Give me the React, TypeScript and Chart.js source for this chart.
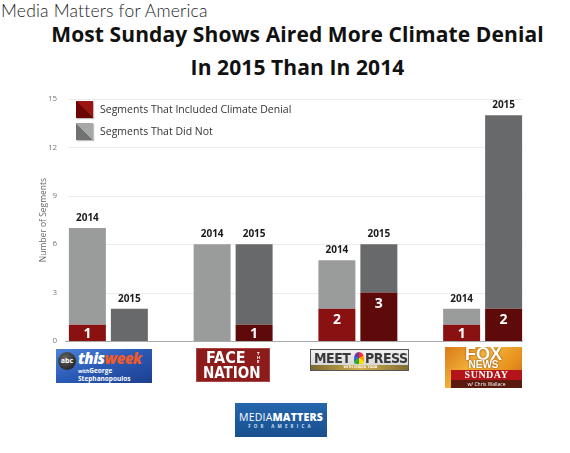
import React, { useEffect, useRef } from "react";
import { Chart, registerables } from "chart.js";

Chart.register(...registerables);

const categories = ["This Week", "Face the Nation", "Meet the Press", "Fox News Sunday"];
const denial2014 = [1, 0, 2, 1];
const other2014 = [6, 6, 3, 1];
const denial2015 = [0, 1, 3, 2];
const other2015 = [2, 5, 3, 12];
const yearLabels = ["2014", "2015"];
const legendLabels = ["Segments That Included Climate Denial", "Segments That Did Not"];
const yTickMax = 15;
const yTickStep = 3;

const FONT = "'Open Sans', 'DejaVu Sans', sans-serif";

const gridPlugin = {
  id: "customGrid",
  beforeDatasetsDraw(chart: any) {
    const { ctx, chartArea, scales } = chart;
    const y = scales.y;
    ctx.save();
    y.ticks.forEach((t: any) => {
      const py = Math.round(y.getPixelForValue(t.value)) + 0.5;
      ctx.beginPath();
      if (t.value === 0) {
        ctx.strokeStyle = "#a9a9a9";
        ctx.moveTo(chartArea.left + 19, py);
      } else {
        ctx.strokeStyle = "#ececec";
        ctx.moveTo(chartArea.left + 22, py);
      }
      ctx.lineTo(chartArea.right - 22, py);
      ctx.lineWidth = 1;
      ctx.stroke();
    });
    ctx.restore();
  },
};

const labelPlugin = {
  id: "barLabels",
  afterDatasetsDraw(chart: any) {
    const { ctx } = chart;
    ctx.save();
    ctx.textAlign = "center";
    [[0, 1], [2, 3]].forEach((pair, yi) => {
      const topMeta = chart.getDatasetMeta(pair[1]);
      topMeta.data.forEach((bar: any) => {
        ctx.font = `bold 10px ${FONT}`;
        ctx.fillStyle = "#1a1a1a";
        ctx.textBaseline = "bottom";
        ctx.fillText(yearLabels[yi], bar.x, bar.y - 5);
      });
      const denMeta = chart.getDatasetMeta(pair[0]);
      const vals = yi === 0 ? denial2014 : denial2015;
      denMeta.data.forEach((bar: any, i: number) => {
        if (!vals[i]) return;
        const h = bar.base - bar.y;
        ctx.font = `bold 14px ${FONT}`;
        ctx.fillStyle = "#ffffff";
        ctx.textBaseline = "middle";
        ctx.fillText(String(vals[i]), bar.x, bar.y + Math.min(10, h / 2) + 1);
      });
    });
    ctx.restore();
  },
};

function ChartCanvas() {
  const ref = useRef<HTMLCanvasElement>(null);
  useEffect(() => {
    if (!ref.current) return;
    const chart = new Chart(ref.current, {
      type: "bar",
      data: {
        labels: categories,
        datasets: [
          { label: legendLabels[0] + " 2014", data: denial2014, backgroundColor: "#8a1111", stack: "2014" },
          { label: legendLabels[1] + " 2014", data: other2014, backgroundColor: "#9a9c9c", stack: "2014" },
          { label: legendLabels[0] + " 2015", data: denial2015, backgroundColor: "#5e0a0a", stack: "2015" },
          { label: legendLabels[1] + " 2015", data: other2015, backgroundColor: "#68696b", stack: "2015" },
        ],
      },
      options: {
        animation: false,
        responsive: false,
        maintainAspectRatio: false,
        layout: { padding: { top: 9, bottom: 9, right: 25, left: 0 } },
        datasets: { bar: { categoryPercentage: 0.673, barPercentage: 0.881, borderWidth: 0 } },
        plugins: { legend: { display: false }, tooltip: { enabled: false }, title: { display: false } },
        scales: {
          x: { display: false, stacked: true },
          y: {
            stacked: true,
            min: 0,
            max: yTickMax,
            border: { display: false },
            grid: { display: false, drawTicks: false },
            ticks: { stepSize: yTickStep, mirror: true, crossAlign: "far", padding: 2, color: "#777", font: { family: FONT, size: 8 } },
            title: {
              display: true,
              text: "Number of Segments",
              color: "#666",
              font: { family: FONT, size: 8.5 },
              padding: { top: 38, bottom: 0 },
            },
            afterFit(scale: any) {
              scale.width = 46;
            },
          },
        },
      },
      plugins: [gridPlugin, labelPlugin],
    });
    return () => chart.destroy();
  }, []);
  return <canvas ref={ref} width={570} height={260} style={{ position: "absolute", left: 0, top: 90, width: 570, height: 260 }} />;
}

export default function App() {
  const abs = (l: number, t: number, w: number, h: number): React.CSSProperties => ({
    position: "absolute",
    left: l,
    top: t,
    width: w,
    height: h,
    boxSizing: "border-box",
    overflow: "hidden",
  });
  return (
    <div style={{ position: "absolute", left: 0, top: 0, width: 570, height: 453, background: "#fff", fontFamily: FONT, overflow: "hidden" }}>
      <div style={{ position: "absolute", left: 1, top: 0, fontFamily: "Lato, 'Open Sans', sans-serif", fontWeight: 300, fontSize: 17.5, letterSpacing: 0.2, color: "#222", lineHeight: "22px", whiteSpace: "nowrap" }}>
        Media Matters for America
      </div>
      <div style={{ position: "absolute", left: 40, top: 18, width: 515, textAlign: "center", fontWeight: 700, fontSize: 21, letterSpacing: 0.1, lineHeight: "33px", color: "#111", whiteSpace: "nowrap" }}>
        <div>Most Sunday Shows Aired More Climate Denial</div>
        <div>In 2015 Than In 2014</div>
      </div>

      <ChartCanvas />

      {/* legend */}
      <div style={{ ...abs(76, 101, 17, 17), background: "linear-gradient(45deg, #6c0606 50%, #9c1515 50%)", boxShadow: "1px 1px 1px rgba(0,0,0,0.25)" }} />
      <div style={{ position: "absolute", left: 100, top: 102, fontSize: 10.5, color: "#333", lineHeight: "14px", whiteSpace: "nowrap" }}>{legendLabels[0]}</div>
      <div style={{ ...abs(76, 123, 17, 17), background: "linear-gradient(45deg, #707172 50%, #a6a8a8 50%)", boxShadow: "1px 1px 1px rgba(0,0,0,0.25)" }} />
      <div style={{ position: "absolute", left: 100, top: 124, fontSize: 10.5, color: "#333", lineHeight: "14px", whiteSpace: "nowrap" }}>{legendLabels[1]}</div>

      {/* This Week logo */}
      <div style={{ ...abs(56, 349, 96, 34), background: "linear-gradient(160deg, #4f83d8 0%, #2b5cb8 45%, #1d3f8f 100%)" }}>
        <div style={{ ...abs(2, 3, 18, 18), borderRadius: 9, background: "radial-gradient(circle at 40% 35%, #666, #111)", color: "#fff", fontSize: 7, fontWeight: 700, textAlign: "center", lineHeight: "18px" }}>abc</div>
        <div style={{ position: "absolute", left: 22, top: 1, fontSize: 15, fontWeight: 800, fontStyle: "italic", lineHeight: "17px", whiteSpace: "nowrap", letterSpacing: -0.5 }}>
          <span style={{ color: "#fff" }}>this</span>
          <span style={{ color: "#ef5a2a" }}>week</span>
        </div>
        <div style={{ position: "absolute", left: 22, top: 18, fontSize: 6.5, fontWeight: 700, color: "#fff", lineHeight: "7px", whiteSpace: "nowrap" }}>
          <span style={{ fontSize: 5 }}>with</span>George
          <br />
          Stephanopoulos
        </div>
      </div>

      {/* Face the Nation logo */}
      <div style={{ ...abs(196, 348, 74, 34), background: "#8c1b1b", border: "1px solid #a44", color: "#fff", fontFamily: "'DejaVu Sans Condensed', 'Liberation Sans', sans-serif", fontWeight: 700 }}>
        <div style={{ position: "absolute", left: 9, top: 0, fontSize: 16, lineHeight: "17px", letterSpacing: 0 }}>FACE</div>
        <div style={{ position: "absolute", left: 60, top: 3, fontSize: 4, lineHeight: "4px", width: 3 }}>T H E</div>
        <div style={{ position: "absolute", left: 6, top: 16, fontSize: 15, lineHeight: "16px" }}>NATION</div>
      </div>

      {/* Meet the Press logo */}
      <div style={{ ...abs(310, 349, 99, 22), background: "linear-gradient(#f2f2f2, #cfcfcf)", border: "1px solid #555", fontFamily: "'DejaVu Sans Condensed', 'Liberation Sans', sans-serif", fontWeight: 700 }}>
        <div style={{ position: "absolute", left: 3, top: 0, fontSize: 14, lineHeight: "16px", color: "#3a3a3a", letterSpacing: -0.5 }}>MEET</div>
        <div style={{ ...abs(43, 2, 10, 12), background: "conic-gradient(#e33 0 60deg, #f90 60deg 120deg, #fd0 120deg 180deg, #3a3 180deg 240deg, #36c 240deg 300deg, #739 300deg)", borderRadius: "50% 50% 2px 2px" }} />
        <div style={{ position: "absolute", left: 54, top: 0, fontSize: 14, lineHeight: "16px", color: "#3a3a3a", letterSpacing: -0.5 }}>PRESS</div>
        <div style={{ ...abs(0, 15, 99, 5), background: "linear-gradient(90deg, #7a6a30, #d4b050, #7a6a30)", fontSize: 3.5, color: "#fff", textAlign: "center", lineHeight: "5px" }}>WITH CHUCK TODD</div>
      </div>

      {/* Fox News Sunday logo */}
      <div style={{ ...abs(445, 347, 77, 41), background: "linear-gradient(135deg, #d9781a 0%, #f3b43a 40%, #e8921e 70%, #c9661a 100%)", fontWeight: 800, textAlign: "center" }}>
        <div style={{ position: "absolute", left: 0, right: 0, top: -2, fontSize: 18, lineHeight: "18px", color: "#fff", textShadow: "0 0 2px #7a3a00", fontFamily: "'Liberation Sans', sans-serif" }}>FOX</div>
        <div style={{ position: "absolute", left: 0, right: 0, top: 13, fontSize: 10, lineHeight: "10px", color: "#fff", textShadow: "0 0 2px #7a3a00", fontFamily: "'Liberation Sans', sans-serif" }}>NEWS</div>
        <div style={{ position: "absolute", left: 6, right: 0, top: 23, height: 10, background: "#b3141a", fontSize: 10, lineHeight: "10px", color: "#fff", fontFamily: "'Liberation Serif', serif", letterSpacing: 0.5 }}>SUNDAY</div>
        <div style={{ position: "absolute", left: 6, right: 0, top: 33, height: 8, background: "#5a1a10", fontSize: 5, lineHeight: "8px", color: "#fff", fontWeight: 400 }}>w/ Chris Wallace</div>
      </div>

      {/* Media Matters logo */}
      <div style={{ ...abs(235, 403, 92, 34), background: "linear-gradient(#2466ad, #184f8e)", color: "#fff", textAlign: "center" }}>
        <div style={{ position: "absolute", left: 0, right: 0, top: 9, fontSize: 10.5, lineHeight: "11px", letterSpacing: 0.2, whiteSpace: "nowrap" }}>
          <span style={{ fontWeight: 400 }}>MEDIA</span>
          <span style={{ fontWeight: 800 }}>MATTERS</span>
        </div>
        <div style={{ position: "absolute", left: 0, right: 0, top: 20, fontSize: 4.5, lineHeight: "6px", letterSpacing: 3.2, fontWeight: 700, color: "#cfe0f5" }}>FOR AMERICA</div>
      </div>
    </div>
  );
}
